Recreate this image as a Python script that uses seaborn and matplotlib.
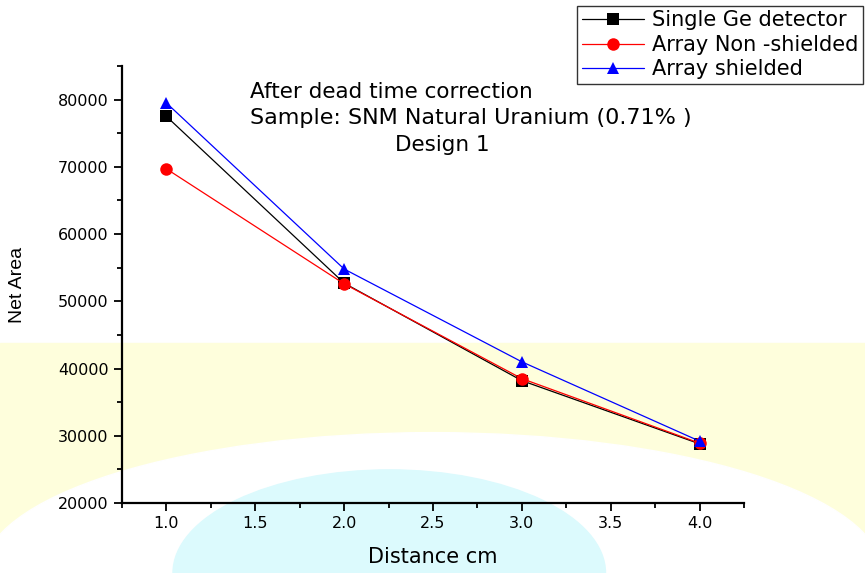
import numpy as np
import pandas as pd
import matplotlib.pyplot as plt
from matplotlib.patches import Rectangle, Ellipse
from matplotlib.ticker import MultipleLocator
import seaborn as sns

sns.set_style("ticks")
plt.rcParams['font.family'] = ['DejaVu Sans']
plt.rcParams['text.color'] = 'black'
plt.rcParams['xtick.color'] = 'black'
plt.rcParams['ytick.color'] = 'black'
plt.rcParams['axes.labelcolor'] = 'black'

# data
distance = [1.0, 2.0, 3.0, 4.0]
single_ge = [77500, 52700, 38200, 28800]
array_nonshielded = [69700, 52600, 38500, 28900]
array_shielded = [79500, 54800, 41000, 29200]

series = ["Single Ge detector", "Array Non -shielded", "Array shielded"]
df = pd.DataFrame({
    "distance": distance * 3,
    "area": single_ge + array_nonshielded + array_shielded,
    "series": np.repeat(series, len(distance)),
})

colors = {"Single Ge detector": "black", "Array Non -shielded": "red", "Array shielded": "blue"}
markers = {"Single Ge detector": "s", "Array Non -shielded": "o", "Array shielded": "^"}

fig = plt.figure(figsize=(8.65, 5.73), dpi=100)

# washed-out background picture behind the plot
fig.patches.append(Rectangle((0, 0), 1, 1 - 343 / 573, transform=fig.transFigure,
                             color="#fefedc", zorder=-10))
fig.patches.append(Ellipse((0.5, 0.0), 1.04, 0.49, transform=fig.transFigure,
                           color="white", zorder=-9))
fig.patches.append(Ellipse((0.45, 0.0), 0.50, 0.36, transform=fig.transFigure,
                           color="#dcfafd", zorder=-8))

ax = fig.add_axes([122 / 865, 1 - 503 / 573, (744 - 122) / 865, (503 - 66) / 573])
ax.patch.set_alpha(0)

sns.lineplot(ax=ax, data=df, x="distance", y="area", hue="series", style="series",
             palette=colors, markers=markers, dashes=False, linewidth=0.9,
             markersize=9, markeredgewidth=0, legend=True)

ax.set_xlim(0.75, 4.25)
ax.set_ylim(20000, 85000)
ax.xaxis.set_major_locator(MultipleLocator(0.5))
ax.xaxis.set_minor_locator(MultipleLocator(0.25))
ax.yaxis.set_major_locator(MultipleLocator(10000))
ax.yaxis.set_minor_locator(MultipleLocator(5000))
ax.set_yticks(np.arange(20000, 80001, 10000))
ax.tick_params(which="major", length=6, width=1.3, labelsize=11.5)
ax.tick_params(which="minor", length=3.5, width=1.3)
for s in ["left", "bottom"]:
    ax.spines[s].set_linewidth(1.6)
    ax.spines[s].set_color("black")
sns.despine(ax=ax)

ax.set_xlabel("Distance cm", fontsize=15)
ax.xaxis.set_label_coords(0.5, -0.10)
ax.set_ylabel("Net Area", fontsize=14, family="Liberation Sans")
ax.yaxis.set_label_coords(-0.155, 0.5)

ax.text(0.206, 0.940, "After dead time correction", transform=ax.transAxes,
        ha="left", va="center", fontsize=15.5)
ax.text(0.206, 0.881, "Sample: SNM Natural Uranium (0.71% )", transform=ax.transAxes,
        ha="left", va="center", fontsize=16)
ax.text(0.515, 0.819, "Design 1", transform=ax.transAxes, ha="center", va="center",
        fontsize=15.5)

handles, labels = ax.get_legend_handles_labels()
ax.get_legend().remove()
lgd = fig.legend(handles, labels, loc="upper right", bbox_to_anchor=(1.0, 0.993),
                 fontsize=15, frameon=True, fancybox=False, edgecolor="black",
                 handlelength=3.0, borderpad=0.2, labelspacing=0.22, borderaxespad=0.1,
                 handletextpad=0.4)
lgd.get_frame().set_linewidth(1.0)

fig.savefig("out.png", dpi=100)
